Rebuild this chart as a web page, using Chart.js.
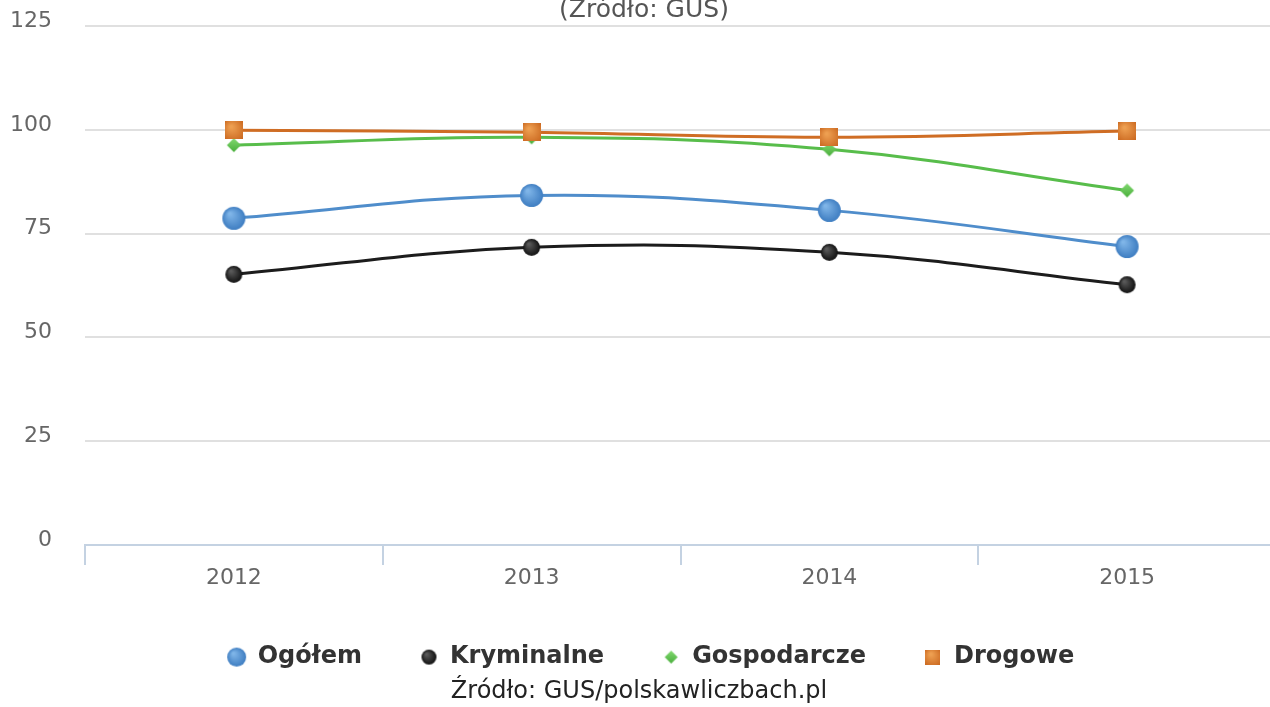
<!DOCTYPE html>
<html>
<head>
<meta charset="utf-8">
<script src="https://cdn.jsdelivr.net/npm/chart.js@4.4.1/dist/chart.umd.min.js"></script>
<style>
  html, body { margin: 0; padding: 0; background: #fff; }
  #wrap { width: 1270px; height: 707px; }
</style>
</head>
<body>
<div id="wrap"><canvas id="wykres" width="1270" height="707"></canvas></div>
<script>
// Dane
const lata = ['2012', '2013', '2014', '2015'];
const ogolem = [78.7, 84.2, 80.6, 71.9];
const kryminalne = [65.2, 71.7, 70.5, 62.7];
const gospodarcze = [96.3, 98.2, 95.3, 85.4];
const drogowe = [99.9, 99.4, 98.2, 99.7];
const nazwy = ['Ogółem', 'Kryminalne', 'Gospodarcze', 'Drogowe'];
const osY = [0, 25, 50, 75, 100, 125];

const FONT = "'DejaVu Sans', Verdana, sans-serif";

// Znaczniki rysowane na osobnym canvasie (z gradientem)
function kulka(d, jasny, ciemny) {
    const c = document.createElement('canvas');
    c.width = d + 2; c.height = d + 2;
    const ctx = c.getContext('2d');
    const r = d / 2, cx = c.width / 2, cy = c.height / 2;
    const g = ctx.createRadialGradient(cx - r * 0.35, cy - r * 0.4, r * 0.1, cx, cy, r);
    g.addColorStop(0, jasny);
    g.addColorStop(1, ciemny);
    ctx.fillStyle = g;
    ctx.beginPath();
    ctx.arc(cx, cy, r, 0, Math.PI * 2);
    ctx.fill();
    return c;
}
function romb(d, jasny, ciemny) {
    const c = document.createElement('canvas');
    c.width = d + 2; c.height = d + 2;
    const ctx = c.getContext('2d');
    const r = d / 2, cx = c.width / 2, cy = c.height / 2;
    const g = ctx.createLinearGradient(0, 0, 0, c.height);
    g.addColorStop(0, jasny);
    g.addColorStop(1, ciemny);
    ctx.fillStyle = g;
    ctx.beginPath();
    ctx.moveTo(cx, cy - r); ctx.lineTo(cx + r, cy); ctx.lineTo(cx, cy + r); ctx.lineTo(cx - r, cy);
    ctx.closePath();
    ctx.fill();
    return c;
}
function kwadrat(d, jasny, ciemny) {
    const c = document.createElement('canvas');
    c.width = d; c.height = d;
    const ctx = c.getContext('2d');
    const g = ctx.createRadialGradient(d * 0.35, d * 0.3, 1, d / 2, d / 2, d * 0.75);
    g.addColorStop(0, jasny);
    g.addColorStop(1, ciemny);
    ctx.fillStyle = g;
    ctx.fillRect(0, 0, d, d);
    return c;
}

const znaczniki = [
    kulka(23, '#7fb5e8', '#3f7ec2'),
    kulka(17, '#5a5a5a', '#111111'),
    romb(14, '#86dc74', '#45ab38'),
    kwadrat(18, '#eea052', '#c8641c')
];
const znacznikiLegendy = [
    kulka(19, '#7fb5e8', '#3f7ec2'),
    kulka(15, '#5a5a5a', '#111111'),
    romb(13, '#86dc74', '#45ab38'),
    kwadrat(15, '#eea052', '#c8641c')
];

// Tytuł u góry (ucięty jak w oryginale)
const tytulPlugin = {
    id: 'tytulGora',
    afterDraw: (chart) => {
        const ctx = chart.ctx;
        ctx.save();
        ctx.font = '25px ' + FONT;
        ctx.fillStyle = '#555';
        ctx.textAlign = 'center';
        ctx.textBaseline = 'alphabetic';
        ctx.fillText('(Źródło: GUS)', 644, 17);
        ctx.restore();
    }
};

// Oś X w oryginale wychodzi lekko poza prawą krawędź, legenda jest przesunięta w prawo
const ukladPlugin = {
    id: 'uklad',
    afterLayout: (chart) => {
        const x = chart.scales.x;
        x.right = chart.width + 6;
        x.width = x.right - x.left;
        x.configure();
        chart.chartArea.right = x.right;
        chart.chartArea.width = x.width;
        chart.legend.left += 12;
        chart.legend.right += 12;
    }
};

const ctx = document.getElementById('wykres').getContext('2d');
new Chart(ctx, {
    type: 'line',
    data: {
        labels: lata,
        datasets: [{
            label: nazwy[0],
            data: ogolem,
            borderColor: '#4f8dcb',
            borderWidth: 3,
            pointStyle: znaczniki[0],
            order: 3
        }, {
            label: nazwy[1],
            data: kryminalne,
            borderColor: '#1c1c1c',
            borderWidth: 3,
            pointStyle: znaczniki[1],
            order: 4
        }, {
            label: nazwy[2],
            data: gospodarcze,
            borderColor: '#58bd4b',
            borderWidth: 3,
            pointStyle: znaczniki[2],
            order: 2
        }, {
            label: nazwy[3],
            data: drogowe,
            borderColor: '#cf6d24',
            borderWidth: 3,
            pointStyle: znaczniki[3],
            order: 1
        }]
    },
    options: {
        responsive: false,
        animation: false,
        layout: {
            autoPadding: false,
            padding: { top: 26, left: 8, right: 0, bottom: 0 }
        },
        elements: {
            line: { tension: 0.4, fill: false },
            point: { radius: 10, hoverRadius: 10 }
        },
        plugins: {
            tooltip: { enabled: false },
            legend: {
                position: 'bottom',
                labels: {
                    usePointStyle: true,
                    boxWidth: 18,
                    boxHeight: 18,
                    padding: 58,
                    color: '#333',
                    font: { family: FONT, size: 24, weight: 'bold' },
                    sort: (a, b) => a.datasetIndex - b.datasetIndex,
                    generateLabels: (chart) => {
                        const items = Chart.defaults.plugins.legend.labels.generateLabels(chart);
                        items.forEach(it => { it.pointStyle = znacznikiLegendy[it.datasetIndex]; });
                        return items;
                    }
                }
            },
            subtitle: {
                display: true,
                position: 'bottom',
                text: 'Źródło: GUS/polskawliczbach.pl',
                color: '#222',
                font: { family: FONT, size: 24, weight: 'normal', lineHeight: 1.08 },
                padding: { top: 0, bottom: 2 }
            }
        },
        scales: {
            x: {
                offset: true,
                afterFit: (scale) => {
                    scale.height = 42;
                    scale.paddingLeft = 0;
                    scale.paddingRight = 0;
                },
                grid: {
                    offset: true,
                    drawOnChartArea: false,
                    drawTicks: true,
                    tickLength: 20,
                    color: '#c4d2e2',
                    lineWidth: 2
                },
                border: { display: true, color: '#c4d2e2', width: 2 },
                ticks: {
                    color: '#666',
                    padding: 0,
                    font: { family: FONT, size: 22 }
                }
            },
            y: {
                min: 0,
                max: 125,
                afterFit: (scale) => {
                    scale.width = 77;
                    scale.paddingTop = 0;
                    scale.paddingBottom = 0;
                },
                afterBuildTicks: (scale) => { scale.ticks = osY.map(v => ({ value: v })); },
                grid: {
                    color: '#e0e0e0',
                    lineWidth: 2,
                    drawTicks: false
                },
                border: { display: false },
                ticks: {
                    color: '#666',
                    padding: 33,
                    labelOffset: -5,
                    font: { family: FONT, size: 22 }
                }
            }
        }
    },
    plugins: [tytulPlugin, ukladPlugin]
});
</script>
</body>
</html>
